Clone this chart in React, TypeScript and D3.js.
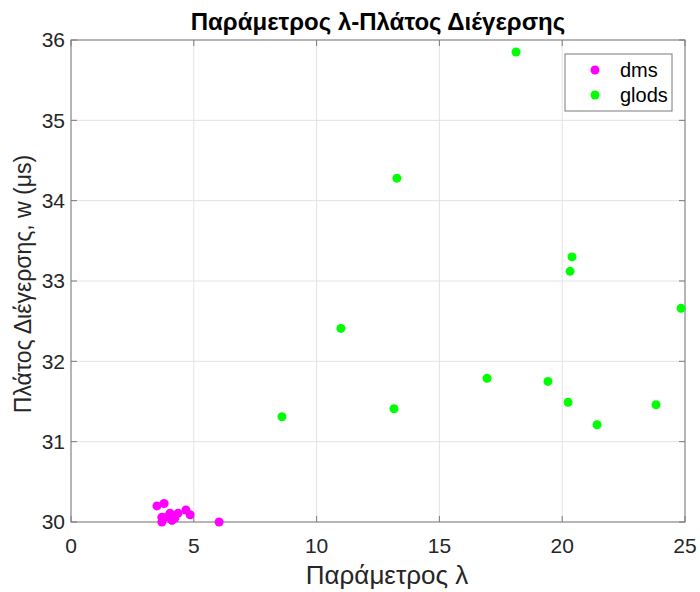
import React from "react";
import * as d3 from "d3";

const dmsLambda = [3.5, 3.79, 3.7, 3.7, 4.03, 4.11, 4.36, 4.68, 4.85, 6.03, 4.23, 3.9];
const dmsWidth = [30.2, 30.23, 30.06, 30.0, 30.11, 30.02, 30.11, 30.15, 30.09, 30.0, 30.05, 30.06];

const glodsLambda = [18.12, 13.27, 20.4, 20.32, 24.84, 10.99, 16.94, 19.42, 20.24, 23.82, 21.42, 13.15, 8.59];
const glodsWidth = [35.85, 34.28, 33.3, 33.12, 32.66, 32.41, 31.79, 31.75, 31.49, 31.46, 31.21, 31.41, 31.31];

const xTicks = [0, 5, 10, 15, 20, 25];
const yTicks = [30, 31, 32, 33, 34, 35, 36];

const W = 700;
const H = 592;
const margin = { left: 71, right: 15, top: 40, bottom: 70 };
const font = "'Liberation Sans', Arial, sans-serif";

export default function App() {
  const x = d3.scaleLinear().domain([0, 25]).range([margin.left, W - margin.right]);
  const y = d3.scaleLinear().domain([30, 36]).range([H - margin.bottom, margin.top]);
  const [x0, x1] = x.range();
  const [y0, y1] = y.range();
  const axisColor = "#7a7a7a";
  const textColor = "#262626";
  const tick = 6;

  const series = [
    { name: "dms", color: "#ff00ff", xs: dmsLambda, ys: dmsWidth },
    { name: "glods", color: "#00ff00", xs: glodsLambda, ys: glodsWidth },
  ];

  return (
    <svg width={W} height={H} style={{ position: "absolute", left: 0, top: 0 }} fontFamily={font}>
      <rect width={W} height={H} fill="#fff" />
      {/* grid */}
      {xTicks.map((t) => (
        <line key={"gx" + t} x1={x(t)} x2={x(t)} y1={y1} y2={y0} stroke="#e3e3e3" strokeWidth={1} />
      ))}
      {yTicks.map((t) => (
        <line key={"gy" + t} x1={x0} x2={x1} y1={y(t)} y2={y(t)} stroke="#e3e3e3" strokeWidth={1} />
      ))}
      {/* frame */}
      <rect x={x0} y={y1} width={x1 - x0} height={y0 - y1} fill="none" stroke={axisColor} strokeWidth={1} />
      {/* ticks */}
      {xTicks.map((t) => (
        <g key={"tx" + t}>
          <line x1={x(t)} x2={x(t)} y1={y0} y2={y0 - tick} stroke={axisColor} />
          <line x1={x(t)} x2={x(t)} y1={y1} y2={y1 + tick} stroke={axisColor} />
          <text x={x(t)} y={y0 + 31} textAnchor="middle" fontSize={21} fill={textColor}>
            {t}
          </text>
        </g>
      ))}
      {yTicks.map((t) => (
        <g key={"ty" + t}>
          <line x1={x0} x2={x0 + tick} y1={y(t)} y2={y(t)} stroke={axisColor} />
          <line x1={x1} x2={x1 - tick} y1={y(t)} y2={y(t)} stroke={axisColor} />
          <text x={x0 - 6} y={y(t)} dy="0.35em" textAnchor="end" fontSize={21} fill={textColor}>
            {t}
          </text>
        </g>
      ))}
      {/* points */}
      {series.map((s) =>
        s.xs.map((v, i) => (
          <circle key={s.name + i} cx={x(v)} cy={y(s.ys[i])} r={4.5} fill={s.color} />
        ))
      )}
      {/* labels */}
      <text x={(x0 + x1) / 2} y={30} textAnchor="middle" fontSize={24} fontWeight="bold" fill="#000">
        Παράμετρος λ-Πλάτος Διέγερσης
      </text>
      <text x={(x0 + x1) / 2 + 9} y={584} textAnchor="middle" fontSize={26} fill={textColor}>
        Παράμετρος λ
      </text>
      <text
        transform={`translate(31, ${(y0 + y1) / 2 + 3}) rotate(-90)`}
        textAnchor="middle"
        fontSize={23}
        fill={textColor}
      >
        Πλάτος Διέγερσης, w (μs)
      </text>
      {/* legend */}
      <g>
        <rect x={565} y={54} width={107} height={57} fill="#fff" stroke={axisColor} strokeWidth={1} />
        {series.map((s, i) => (
          <g key={"lg" + s.name}>
            <circle cx={595} cy={70 + i * 25} r={4.5} fill={s.color} />
            <text x={620} y={70 + i * 25} dy="0.35em" fontSize={20} fill="#000">
              {s.name}
            </text>
          </g>
        ))}
      </g>
    </svg>
  );
}
